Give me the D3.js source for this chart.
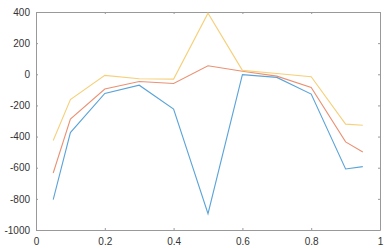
<!DOCTYPE html>
<html>
<head>
<meta charset="UTF-8">
<script src="https://d3js.org/d3.v7.min.js"></script>
<style>
	body{ margin:0; background:#fff; }
	.axis text{ font-family: "Liberation Sans", Arial, sans-serif; font-size:10px; fill:#333; }
	.axis path, .axis line{ stroke:#999; }
</style>
</head>
<body>
<div id="chart"></div>
<script>
var xs = [0.05, 0.1, 0.2, 0.3, 0.4, 0.5, 0.6, 0.7, 0.8, 0.9, 0.95];
var blueVals = [-805, -374, -123, -70, -224, -895, -2, -20, -127, -608, -593];
var orangeVals = [-634, -288, -95, -46, -59, 55, 19, -12, -84, -434, -499];
var yellowVals = [-425, -162, -7, -29, -31, 392, 25, 5, -16, -320, -327];
var xTicks = [0, 0.2, 0.4, 0.6, 0.8, 1];
var yTicks = [-1000, -800, -600, -400, -200, 0, 200, 400];

var W = 388, H = 248;
var l = 36, r = 380, t = 12, b = 230;

var svg = d3.select("#chart").append("svg")
	.attr("width", W).attr("height", H);

var x = d3.scaleLinear().domain([0, 1]).range([l, r]);
var y = d3.scaleLinear().domain([-1000, 400]).range([b, t]);

var fmt = function(d){ return String(d); };

//bottom & left axes, ticks pointing in
svg.append("g").attr("class", "axis").attr("transform", "translate(0," + b + ")")
	.call(d3.axisBottom(x).tickValues(xTicks).tickFormat(fmt).tickSizeInner(-2).tickSizeOuter(0).tickPadding(8));
svg.append("g").attr("class", "axis").attr("transform", "translate(" + l + ",0)")
	.call(d3.axisLeft(y).tickValues(yTicks).tickFormat(fmt).tickSizeInner(-2).tickSizeOuter(0).tickPadding(6));
//top & right
svg.append("g").attr("class", "axis").attr("transform", "translate(0," + t + ")")
	.call(d3.axisTop(x).tickValues(xTicks).tickFormat("").tickSizeInner(-2).tickSizeOuter(0));
svg.append("g").attr("class", "axis").attr("transform", "translate(" + r + ",0)")
	.call(d3.axisRight(y).tickValues(yTicks).tickFormat("").tickSizeInner(-2).tickSizeOuter(0));

var line = d3.line()
	.x(function(d, i){ return x(xs[i]); })
	.y(function(d){ return y(d); });

var series = [
	{vals: blueVals, color: "#5aa3d9"},
	{vals: orangeVals, color: "#ea9173"},
	{vals: yellowVals, color: "#f6d07a"}
];
series.forEach(function(s){
	svg.append("path").datum(s.vals)
		.attr("d", line)
		.attr("fill", "none")
		.attr("stroke", s.color)
		.attr("stroke-width", 1.1);
});
</script>
</body>
</html>
